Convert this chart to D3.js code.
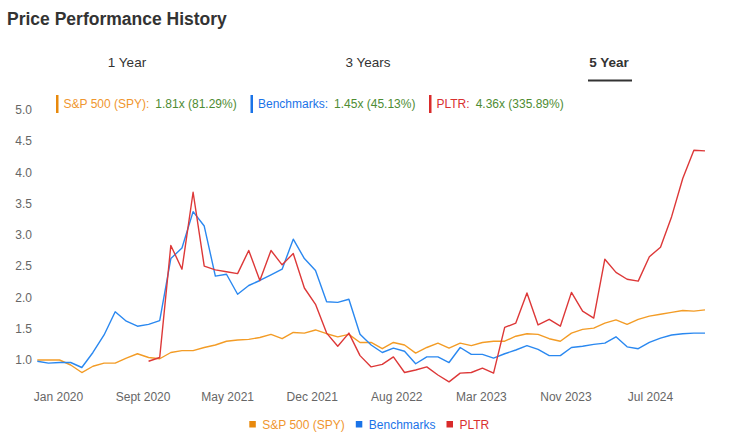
<!DOCTYPE html>
<html>
<head>
<meta charset="utf-8">
<script src="https://cdn.jsdelivr.net/npm/d3@7"></script>
<style>
  html, body { margin: 0; padding: 0; background: #fff; }
  svg { display: block; font-family: "Liberation Sans", Arial, sans-serif; }
</style>
</head>
<body>
<svg id="chart" width="733" height="437"></svg>
<script>
// ---- data (monthly, Dec 2019 .. Dec 2024) ----
const spyValues = [1.00,1.00,1.00,0.92,0.80,0.90,0.95,0.95,1.03,1.10,1.04,1.02,1.12,1.15,1.15,1.20,1.24,1.30,1.32,1.33,1.36,1.41,1.34,1.44,1.43,1.48,1.42,1.37,1.41,1.28,1.28,1.18,1.28,1.24,1.11,1.20,1.27,1.19,1.27,1.23,1.28,1.30,1.30,1.38,1.42,1.41,1.34,1.30,1.43,1.49,1.51,1.59,1.64,1.57,1.65,1.70,1.73,1.76,1.79,1.78,1.80];
const benchValues = [0.98,0.95,0.96,0.96,0.88,1.12,1.40,1.77,1.62,1.54,1.57,1.63,2.62,2.79,3.37,3.14,2.34,2.37,2.05,2.19,2.27,2.36,2.45,2.93,2.62,2.43,1.93,1.92,1.97,1.41,1.24,1.12,1.19,1.14,0.94,1.05,1.05,0.96,1.20,1.09,1.09,1.03,1.10,1.16,1.23,1.17,1.07,1.07,1.20,1.22,1.25,1.27,1.37,1.21,1.18,1.28,1.35,1.40,1.42,1.43,1.43];
const pltrValues = [null,null,null,null,null,null,null,null,null,null,0.98,1.04,2.83,2.45,3.68,2.50,2.44,2.41,2.38,2.75,2.27,2.75,2.52,2.70,2.15,1.89,1.43,1.22,1.43,1.07,0.89,0.93,1.05,0.80,0.84,0.89,0.76,0.65,0.79,0.80,0.87,0.79,1.52,1.59,2.07,1.56,1.65,1.54,2.08,1.78,1.67,2.61,2.40,2.29,2.26,2.65,2.80,3.29,3.90,4.35,4.34];

const seriesNames = ["S&P 500 (SPY)", "Benchmarks", "PLTR"];
const seriesSummary = ["1.81x (81.29%)", "1.45x (45.13%)", "4.36x (335.89%)"];

const xTickLabels = ["Jan 2020","Sept 2020","May 2021","Dec 2021","Aug 2022","Mar 2023","Nov 2023","Jul 2024"];
const xTickAt = [1.86, 9.46, 17.06, 24.66, 32.26, 39.86, 47.46, 55.06]; // in month-index units
const yTicks = [1.0, 1.5, 2.0, 2.5, 3.0, 3.5, 4.0, 4.5, 5.0];
const tabLabels = ["1 Year", "3 Years", "5 Year"];

// ---- styles ----
const lineColors = ["#f39c26", "#2a88f0", "#dd3838"];
const labelColors = ["#f0962e", "#1a73e8", "#d93030"];
const swatchColors = ["#e8890c", "#1a73e8", "#d92b2b"];
const valueColor = "#4e8c33";

const svg = d3.select("#chart");

// title
svg.append("text").attr("x", 7).attr("y", 25)
  .attr("font-size", 17.5).attr("font-weight", "bold").attr("fill", "#333")
  .text("Price Performance History");

// tabs
const tabX = [127, 368, 609];
tabLabels.forEach((t, i) => {
  svg.append("text").attr("x", tabX[i]).attr("y", 67)
    .attr("text-anchor", "middle").attr("font-size", 13.5)
    .attr("font-weight", i === 2 ? "bold" : "normal")
    .attr("fill", "#333").text(t);
});
svg.append("rect").attr("x", 588).attr("y", 79.5).attr("width", 44).attr("height", 2).attr("fill", "#333");

// scales
const x = d3.scaleLinear().domain([0, spyValues.length - 1]).range([37.3, 705]);
const y = d3.scaleLinear().domain([1, 5]).range([360, 109.6]);

// y axis
const yAxis = svg.append("g").attr("transform", "translate(35,0)")
  .call(d3.axisLeft(y).tickValues(yTicks).tickFormat(d3.format(".1f")).tickSize(0).tickPadding(3));
yAxis.select(".domain").remove();
yAxis.selectAll("text").attr("font-size", 12).attr("fill", "#666")
  .attr("font-family", "Liberation Sans, Arial, sans-serif");

// x axis
const xAxis = svg.append("g").attr("transform", "translate(0,385)")
  .call(d3.axisBottom(x).tickValues(xTickAt).tickFormat((d, i) => xTickLabels[i]).tickSize(0).tickPadding(7));
xAxis.select(".domain").remove();
xAxis.selectAll("text").attr("font-size", 12).attr("fill", "#666")
  .attr("font-family", "Liberation Sans, Arial, sans-serif");

// lines
const allSeries = [spyValues, benchValues, pltrValues];
const line = d3.line()
  .defined(d => d != null)
  .x((d, i) => x(i))
  .y(d => y(d));
allSeries.forEach((vals, k) => {
  svg.append("path").datum(vals)
    .attr("fill", "none").attr("stroke", lineColors[k])
    .attr("stroke-width", 1.4).attr("stroke-linejoin", "round")
    .attr("d", line);
});

// top legend
const topStart = [57, 251.5, 430];
seriesNames.forEach((n, k) => {
  const g = svg.append("g").attr("transform", `translate(${topStart[k]},0)`);
  g.append("rect").attr("x", -1).attr("y", 95).attr("width", 2.5).attr("height", 18).attr("fill", swatchColors[k]);
  const lab = g.append("text").attr("x", 6.5).attr("y", 108.3).attr("font-size", 12)
    .attr("fill", labelColors[k]).text(n + ":");
  const w = lab.node().getComputedTextLength();
  g.append("text").attr("x", 6.5 + w + 6).attr("y", 108.3).attr("font-size", 12)
    .attr("fill", valueColor).text(seriesSummary[k]);
});

// bottom legend
let lx = 249.3;
seriesNames.forEach((n, k) => {
  svg.append("rect").attr("x", lx).attr("y", 421).attr("width", 6.5).attr("height", 6.5).attr("fill", swatchColors[k]);
  const t = svg.append("text").attr("x", lx + 13).attr("y", 428.5).attr("font-size", 12)
    .attr("fill", labelColors[k]).text(n);
  lx = lx + 13 + t.node().getComputedTextLength() + 11;
});
</script>
</body>
</html>
